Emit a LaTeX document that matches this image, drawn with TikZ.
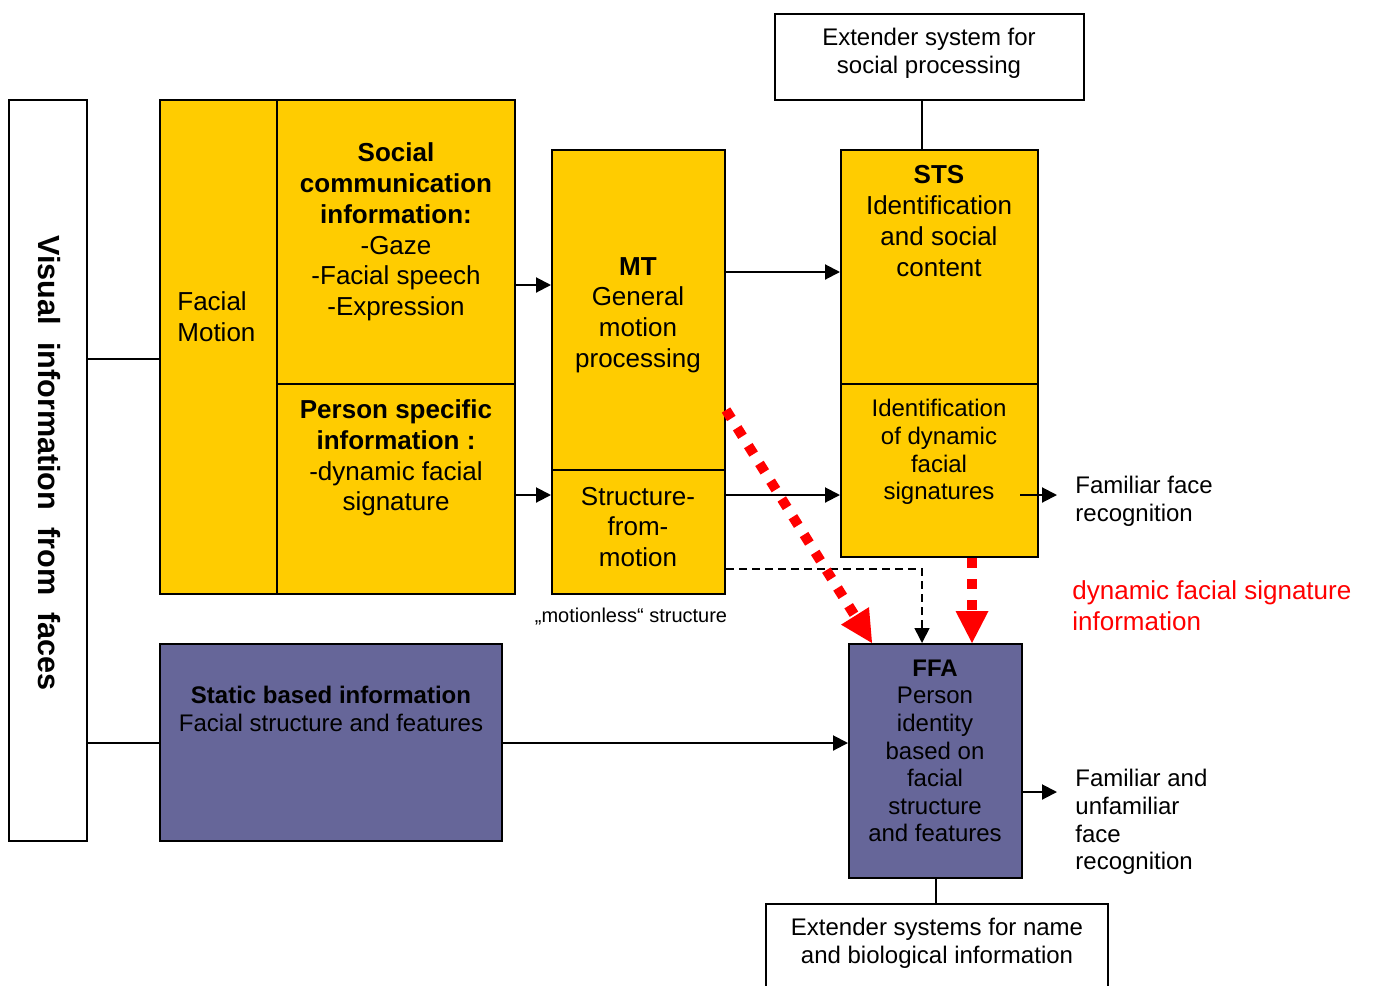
\documentclass[tikz,border=0pt]{standalone}
\usepackage{fontspec}
\setmainfont{Liberation Sans}
\usetikzlibrary{arrows.meta,fit}

\definecolor{facegold}{HTML}{FFCC00}
\definecolor{staticblue}{HTML}{666699}

\begin{document}
\begin{tikzpicture}[x=0.5pt, y=-0.5pt,
    box/.style={draw, line width=1pt, inner sep=0pt},
    goldbox/.style={box, fill=facegold},
    bluebox/.style={box, fill=staticblue},
    big/.style={font=\fontsize{13}{15.4}\selectfont, align=center},
    small/.style={font=\fontsize{12}{13.8}\selectfont, align=center},
    arr/.style={line width=1pt, -{Triangle[length=7.5pt, width=7.5pt]}},
    redarr/.style={red, line width=5pt, dash pattern=on 5pt off 5.5pt, -{Triangle[length=16pt, width=16.5pt, line width=0pt]}}]
    \useasboundingbox (0,0) rectangle (1374,985);
    \clip (0,0) rectangle (1374,985);

    \node [box, fit={(9,100) (87,841)}] (vis) {};
    \node [goldbox, fit={(160,100) (277,594)}] (fm) {};
    \node [goldbox, fit={(277,100) (515,384)}] (soc) {};
    \node [goldbox, fit={(277,384) (515,594)}] (psi) {};
    \node [goldbox, fit={(552,150) (725,470)}] (mt) {};
    \node [goldbox, fit={(552,470) (725,594)}] (sfm) {};
    \node [box, fit={(775,14) (1084,100)}] (exta) {};
    \node [goldbox, fit={(841,150) (1038,384)}] (sts) {};
    \node [goldbox, fit={(841,384) (1038,557)}] (stsl) {};
    \node [bluebox, fit={(160,644) (502,841)}] (stat) {};
    \node [bluebox, fit={(849,644) (1022,878)}] (ffa) {};
    \node [box, fit={(766,904) (1108,1000)}] (extb) {};

    \node [rotate=-90, font=\fontsize{15.3}{18}\selectfont\bfseries] (vistxt) at (49,463) {Visual\ \ information\ \ from\ \ faces};
    \node [big, align=left, anchor=west, inner sep=0pt] (fmtxt) at (177,317) {Facial\\ Motion};
    \node [big] (soctxt) at (396,232) {\textbf{Social}\\ \textbf{communication}\\ \textbf{information:}\\ -Gaze\\ -Facial speech\\ -Expression};
    \node [big] (psitxt) at (396,458) {\textbf{Person specific}\\ \textbf{information :}\\ -dynamic facial\\ signature};
    \node [big] (mttxt) at (638,315) {\textbf{MT}\\ General\\ motion\\ processing};
    \node [big] (sfmtxt) at (638,527) {Structure-\\ from-\\ motion};
    \node [big] (ststxt) at (939,221) {\textbf{STS}\\ Identification\\ and social\\ content};
    \node [small] (stsltxt) at (939,452) {Identification\\ of dynamic\\ facial\\ signatures};
    \node [small] (extatxt) at (929,53) {Extender system for\\ social processing};
    \node [small] (stattxt) at (331,709) {\textbf{Static based information}\\ Facial structure and features};
    \node [small] (ffatxt) at (935,751) {\textbf{FFA}\\ Person\\ identity\\ based on\\ facial\\ structure\\ and features};
    \node [small] (extbtxt) at (937,943) {Extender systems for name\\ and biological information};
    \node [font=\fontsize{10}{12}\selectfont] (mless) at (631,617) {„motionless“ structure};
    \node [small, align=left, anchor=west, inner xsep=9pt] (famface) at (1057,501) {Familiar face\\ recognition};
    \node [small, align=left, anchor=west, inner xsep=9pt] (famall) at (1057,822) {Familiar and\\ unfamiliar\\ face\\ recognition};
    \node [big, red, align=left, anchor=west, inner sep=0pt] (redtxt) at (1072,606) {dynamic facial signature\\ information};
    \coordinate (famstart) at (1020,495);

    \draw [line width=1pt] (vis.east |- 0,359) -- (fm.west |- 0,359);
    \draw [line width=1pt] (vis.east |- 0,743) -- (stat.west |- 0,743);
    \draw [arr] (soc.east |- 0,285) -- (mt.west |- 0,285);
    \draw [arr] (psi.east |- 0,495) -- (sfm.west |- 0,495);
    \draw [arr] (mt.east |- 0,272) -- (sts.west |- 0,272);
    \draw [arr] (sfm.east |- 0,495) -- (stsl.west |- 0,495);
    \draw [arr] (famstart) -- (famface.west |- famstart);
    \draw [arr] (stat.east |- 0,743) -- (ffa.west |- 0,743);
    \draw [arr] (ffa.east |- 0,792) -- (famall.west |- 0,792);
    \draw [line width=1pt] (exta.south -| 922,0) -- (sts.north -| 922,0);
    \draw [line width=1pt] (ffa.south) -- (extb.north -| ffa.south);
    \draw [arr, line width=0.8pt, dash pattern=on 4pt off 2.5pt] (sfm.east |- 0,569) -| (ffa.north -| 922,0);

    \draw [redarr] (mt.east |- 0,410) -- (ffa.north -| 872,0);
    \draw [redarr] (stsl.south -| 972,0) -- (ffa.north -| 972,0);
\end{tikzpicture}
\end{document}
